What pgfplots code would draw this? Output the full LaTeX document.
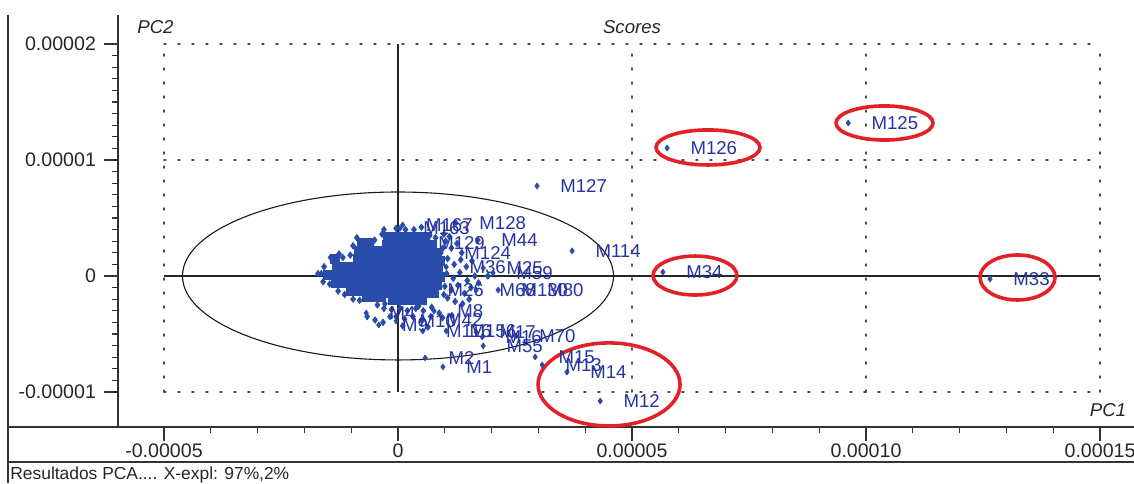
\documentclass[border=0pt]{standalone}
\usepackage{fontspec}
\setmainfont{Liberation Sans}
\usepackage{pgfplots}
\usepackage{pgfplotstable}
\pgfplotsset{compat=1.18}
\definecolor{ptblue}{RGB}{42,76,170}
\definecolor{lblblue}{RGB}{38,52,160}
\definecolor{markred}{RGB}{228,32,40}

% PCA scores, values in units of 1e-6 (PC1 = x, PC2 = y)
% dense (saturated) part of the cluster
\pgfplotstableread{
x y
-2.2 3.4
-0.6 3.4
1.0 3.4
2.6 3.4
4.2 3.4
5.8 3.4
-2.4 2.7
-0.8 2.7
0.8 2.7
2.4 2.7
4.0 2.7
5.6 2.7
7.2 2.7
-2.6 2.0
-1.0 2.0
0.6 2.0
2.2 2.0
3.8 2.0
5.4 2.0
7.0 2.0
8.4 2.0
-2.2 1.3
-0.6 1.3
1.0 1.3
2.6 1.3
4.2 1.3
5.8 1.3
7.4 1.3
9.0 1.3
-2.6 0.6
-1.0 0.6
0.6 0.6
2.2 0.6
3.8 0.6
5.4 0.6
7.0 0.6
8.6 0.6
-2.2 -0.1
-0.6 -0.1
1.0 -0.1
2.6 -0.1
4.2 -0.1
5.8 -0.1
7.4 -0.1
9.0 -0.1
-2.6 -0.8
-1.0 -0.8
0.6 -0.8
2.2 -0.8
3.8 -0.8
5.4 -0.8
7.0 -0.8
8.4 -0.8
-2.0 -1.5
-0.4 -1.5
1.2 -1.5
2.8 -1.5
4.4 -1.5
6.0 -1.5
7.6 -1.5
-1.2 -2.1
0.4 -2.1
2.0 -2.1
3.6 -2.1
5.2 -2.1
-7.8 2.9
-6.2 2.9
-8.4 2.2
-6.8 2.2
-5.2 2.2
-3.8 2.2
-13.5 1.5
-8.6 1.5
-7.0 1.5
-5.4 1.5
-3.9 1.5
-13.0 0.8
-11.4 0.8
-9.8 0.8
-8.2 0.8
-6.6 0.8
-5.0 0.8
-3.6 0.8
-15.0 0.1
-13.6 0.1
-12.0 0.1
-10.4 0.1
-8.8 0.1
-7.2 0.1
-5.6 0.1
-4.0 0.1
-13.2 -0.6
-11.6 -0.6
-10.0 -0.6
-8.4 -0.6
-6.8 -0.6
-5.2 -0.6
-3.8 -0.6
-10.0 -1.3
-8.4 -1.3
-6.8 -1.3
-5.2 -1.3
-3.6 -1.3
-6.6 -1.8
-5.0 -1.8
-3.6 -1.8
}\dense

% scattered unlabelled points around the cluster
\pgfplotstableread{
x y
10.2 3.0
11.4 2.4
12.6 2.8
13.6 2.0
10.6 1.5
12.0 1.0
13.4 1.4
14.6 0.8
15.8 1.3
10.4 0.2
11.8 -0.2
13.2 0.3
14.8 -0.4
16.4 0.0
10.0 -0.9
11.4 -1.2
12.8 -0.8
14.2 -1.5
15.6 -1.0
10.6 -1.9
12.2 -2.2
13.8 -2.4
15.2 -2.0
17.2 -0.6
19.2 0.0
9.6 2.4
9.8 3.6
11.0 3.4
-3.0 -2.8
-1.4 -2.9
0.4 -2.8
2.0 -3.0
3.8 -2.8
5.4 -3.0
7.2 -2.7
8.8 -3.2
-0.4 -3.5
1.4 -3.7
3.2 -3.5
5.0 -3.8
7.0 -3.5
9.5 -3.6
11.5 -3.4
1.0 -4.3
6.4 -4.4
-6.6 -3.5
-4.9 -3.8
-3.2 -4.0
-1.7 -3.5
-0.4 4.1
1.6 4.0
3.4 4.0
-3.4 3.6
6.8 3.5
8.0 3.3
-9.6 2.6
-10.2 1.8
-11.8 1.6
-12.6 1.9
-14.4 1.6
-15.8 0.8
-16.4 0.2
-17.1 0.2
-16.0 -0.5
-14.6 -0.7
-12.8 -1.3
-11.4 -1.6
-9.6 -2.0
-8.2 -2.1
-2.8 -2.4
-8.8 3.3
-5.0 3.1
-3.0 4.0
5.0 4.2
9.8 -1.6
-4.4 -2.5
4.4 -2.6
}\scattered

% labelled samples
\pgfplotstableread{
x y label
96.2 13.19 M125
57.5 11.03 M126
29.7 7.76 M127
37.2 2.16 M114
56.6 0.34 M34
126.5 -0.26 M33
43.2 -10.78 M12
36.1 -8.28 M14
30.8 -7.67 M13
29.3 -6.98 M15
9.6 -7.84 M1
5.8 -7.07 M2
18.2 -6.03 M55
25.2 -5.17 M70
16.7 -4.83 M17
18.0 -5.26 M16
5.3 -4.74 M116
10.3 -4.74 M156
12.4 4.57 M128
17.1 3.10 M44
0.4 4.10 M163
1.0 4.40 M167
3.6 2.84 M129
9.2 1.98 M124
10.3 0.78 M36
18.2 0.69 M25
20.3 0.26 M59
5.6 -1.21 M26
16.7 -1.21 M68
21.4 -1.21 M130
26.9 -1.21 M80
7.7 -3.02 M8
5.3 -3.79 M42
-0.4 -3.88 M10
-4.1 -4.22 M9
-6.8 -3.19 M4
}\labelled

\begin{document}
\begin{tikzpicture}
\useasboundingbox (-59pt,-28pt) rectangle (508pt,213.5pt);
\begin{axis}[
  at={(0,0)}, anchor=south west,
  scale only axis, width=508pt, height=206pt,
  xmin=-59.83, xmax=157.26, ymin=-13.02, ymax=22.5,
  axis x line*=bottom, axis y line*=left,
  axis line style={-, line width=0.7pt, black!80},
  tick align=outside, major tick length=7pt, minor tick length=3pt,
  xtick={-50,0,50,100,150},
  xticklabels={-0.00005,0,0.00005,0.00010,0.00015},
  ytick={-10,0,10,20},
  yticklabels={-0.00001,0,0.00001,0.00002},
  minor xtick={-40,-30,...,140},
  minor ytick={-9,-8,...,19},
  tick style={black!80, line width=0.6pt},
  ticklabel style={font=\fontsize{9.8}{11}\selectfont, text=black!85},
  xticklabel style={yshift=2pt},
  yticklabel style={xshift=-0.5pt},
  clip=false,
]
% dotted grid
\begin{scope}[black!70, line width=0.9pt, dash pattern=on 0.9pt off 6.1pt, line cap=round]
\draw (axis cs:-50,-10) -- (axis cs:-50,20);
\draw (axis cs:50,-10) -- (axis cs:50,20);
\draw (axis cs:100,-10) -- (axis cs:100,20);
\draw (axis cs:150,-10) -- (axis cs:150,20);
\draw (axis cs:-50,-10) -- (axis cs:150,-10);
\draw (axis cs:-50,10) -- (axis cs:150,10);
\draw (axis cs:-50,20) -- (axis cs:150,20);
\end{scope}
% PC axes through origin
\draw[black!85, line width=0.7pt] (axis cs:0,-10) -- (axis cs:0,20);
\draw[black!85, line width=0.7pt] (axis cs:-50,0) -- (axis cs:150,0);
% Hotelling ellipse
\draw[black!90, line width=0.55pt] (axis cs:0,0) ellipse [x radius=46.05, y radius=7.24];

\addplot[only marks, mark=square*, mark size=2.2pt, ptblue, mark options={draw=ptblue, fill=ptblue}] table {\dense};
\addplot[only marks, mark=diamond*, mark size=1.6pt, ptblue] table {\scattered};
\addplot[only marks, mark=diamond*, mark size=1.4pt, ptblue,
  point meta=explicit symbolic, nodes near coords,
  every node near coord/.append style={anchor=west, inner sep=0pt, xshift=11.5pt,
    font=\fontsize{9.3}{10}\selectfont, text=lblblue}]
  table[meta=label] {\labelled};

% red hand-drawn highlight ellipses
\begin{scope}[markred, line width=1.8pt]
\draw (axis cs:103.95,13.19) ellipse [x radius=10.36, y radius=1.47];
\draw (axis cs:66.24,11.08) ellipse [x radius=11.11, y radius=1.51];
\draw (axis cs:63.46,0.04) ellipse [x radius=8.97, y radius=1.68];
\draw (axis cs:132.37,-0.13) ellipse [x radius=8.01, y radius=1.94];
\draw (axis cs:45.09,-9.35) ellipse [x radius=15.17, y radius=3.58];
\end{scope}
\end{axis}
% frame and captions
\draw[black!80, line width=0.7pt] (-55pt,206pt) -- (-55pt,-28pt);
\draw[black!80, line width=0.7pt] (-55pt,0pt) -- (0pt,0pt);
\draw[black!80, line width=0.7pt] (-55pt,-17.5pt) -- (508pt,-17.5pt);
\node[anchor=base west, inner sep=0pt, font=\fontsize{8.7}{10}\selectfont, text=black!85] at (-54pt,-26.3pt) {Resultados PCA.... X-expl: 97\%,2\%};
\node[inner sep=0pt, font=\fontsize{9.3}{10}\selectfont\itshape, text=black!85] at (257pt,200pt) {Scores};
\node[anchor=west, inner sep=0pt, font=\fontsize{9.3}{10}\selectfont\itshape, text=black!85] at (9.5pt,200pt) {PC2};
\node[inner sep=0pt, font=\fontsize{9.3}{10}\selectfont\itshape, text=black!85] at (495pt,8.5pt) {PC1};
\end{tikzpicture}
\end{document}
